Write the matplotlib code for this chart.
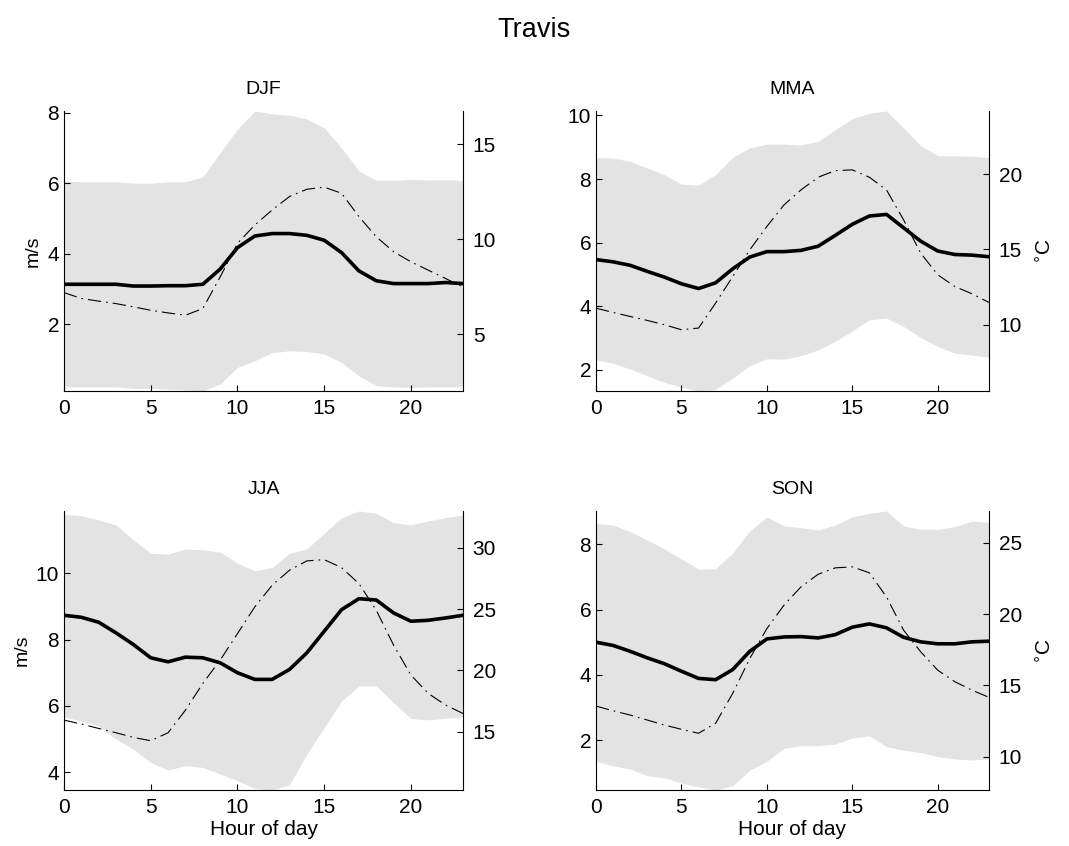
import numpy as np
import matplotlib.pyplot as plt

plt.rcParams['font.family'] = ['Liberation Sans', 'DejaVu Sans']

hours = np.arange(24)

seasons = ["DJF", "MMA", "JJA", "SON"]

# wind speed, m/s: mean and band edges; temperature in degC
djf_mean = [3.13, 3.13, 3.13, 3.13, 3.08, 3.08, 3.09, 3.09, 3.13, 3.56, 4.17, 4.50,
            4.57, 4.57, 4.52, 4.38, 4.03, 3.51, 3.23, 3.15, 3.15, 3.15, 3.18, 3.15]
djf_upper = [6.06, 6.04, 6.04, 6.04, 6.00, 6.00, 6.04, 6.04, 6.18, 6.87, 7.53, 8.05,
             7.97, 7.93, 7.82, 7.57, 7.00, 6.35, 6.08, 6.08, 6.11, 6.09, 6.10, 6.08]
djf_lower = [0.22, 0.22, 0.22, 0.22, 0.17, 0.17, 0.15, 0.13, 0.10, 0.30, 0.77, 0.96,
             1.19, 1.24, 1.22, 1.15, 0.91, 0.53, 0.25, 0.22, 0.20, 0.22, 0.22, 0.22]
djf_temp = [7.18, 6.87, 6.73, 6.60, 6.43, 6.25, 6.11, 5.99, 6.34, 8.00, 9.77, 10.74,
            11.53, 12.24, 12.62, 12.73, 12.41, 11.18, 10.12, 9.33, 8.80, 8.36, 7.92, 7.48]

mma_mean = [5.47, 5.40, 5.29, 5.10, 4.92, 4.71, 4.56, 4.74, 5.18, 5.55, 5.72, 5.72,
            5.76, 5.89, 6.23, 6.58, 6.84, 6.89, 6.47, 6.05, 5.74, 5.63, 5.61, 5.56]
mma_upper = [8.68, 8.66, 8.56, 8.35, 8.14, 7.84, 7.81, 8.14, 8.68, 8.98, 9.10, 9.10,
             9.07, 9.19, 9.55, 9.90, 10.07, 10.14, 9.61, 9.05, 8.74, 8.73, 8.72, 8.68]
mma_lower = [2.32, 2.21, 2.03, 1.82, 1.61, 1.47, 1.34, 1.39, 1.74, 2.14, 2.35, 2.34,
             2.45, 2.63, 2.90, 3.23, 3.58, 3.63, 3.37, 3.02, 2.74, 2.53, 2.47, 2.40]
mma_temp = [11.10, 10.82, 10.55, 10.29, 10.00, 9.67, 9.78, 11.44, 13.20, 14.98, 16.53, 17.96,
            18.96, 19.80, 20.24, 20.29, 19.80, 18.96, 16.97, 14.76, 13.32, 12.54, 12.06, 11.48]

jja_mean = [8.73, 8.67, 8.52, 8.20, 7.85, 7.45, 7.33, 7.47, 7.45, 7.30, 7.00, 6.80,
            6.80, 7.10, 7.60, 8.25, 8.90, 9.23, 9.19, 8.80, 8.55, 8.58, 8.65, 8.73]
jja_upper = [11.77, 11.73, 11.60, 11.45, 11.00, 10.60, 10.57, 10.73, 10.70, 10.63, 10.30, 10.07,
             10.17, 10.60, 10.73, 11.20, 11.67, 11.87, 11.80, 11.52, 11.45, 11.57, 11.67, 11.75]
jja_lower = [5.67, 5.55, 5.40, 5.00, 4.70, 4.30, 4.07, 4.20, 4.15, 3.95, 3.75, 3.52,
             3.47, 3.63, 4.55, 5.35, 6.15, 6.60, 6.60, 6.10, 5.62, 5.58, 5.63, 5.68]
jja_temp = [15.96, 15.64, 15.28, 14.93, 14.55, 14.28, 14.93, 16.77, 18.94, 20.84, 23.00, 25.18,
            26.94, 28.16, 28.92, 29.02, 28.37, 27.07, 24.90, 22.06, 19.62, 18.13, 17.18, 16.50]

son_mean = [5.00, 4.90, 4.72, 4.52, 4.34, 4.11, 3.89, 3.85, 4.16, 4.72, 5.10, 5.16,
            5.17, 5.13, 5.23, 5.46, 5.56, 5.44, 5.15, 5.01, 4.95, 4.95, 5.01, 5.03]
son_upper = [8.64, 8.59, 8.39, 8.13, 7.86, 7.55, 7.24, 7.25, 7.73, 8.41, 8.84, 8.56,
             8.51, 8.44, 8.59, 8.84, 8.95, 9.02, 8.56, 8.46, 8.46, 8.54, 8.71, 8.67]
son_lower = [1.35, 1.21, 1.11, 0.91, 0.84, 0.68, 0.57, 0.47, 0.60, 1.08, 1.35, 1.75,
             1.83, 1.83, 1.88, 2.06, 2.13, 1.80, 1.69, 1.62, 1.49, 1.42, 1.39, 1.42]
son_temp = [13.55, 13.22, 12.92, 12.57, 12.22, 11.92, 11.64, 12.34, 14.44, 16.89, 18.99, 20.63,
            21.92, 22.80, 23.25, 23.32, 22.90, 21.21, 18.88, 17.36, 16.07, 15.26, 14.67, 14.16]

wind_ticks = [[2, 4, 6, 8], [2, 4, 6, 8, 10], [4, 6, 8, 10], [2, 4, 6, 8]]
temp_ticks = [[5, 10, 15], [10, 15, 20], [15, 20, 25, 30], [10, 15, 20, 25]]
temp_lims = [(2.0, 16.74), (5.6, 24.2), (10.27, 32.98), (7.66, 27.24)]

data = {
    "DJF": (djf_mean, djf_upper, djf_lower, djf_temp),
    "MMA": (mma_mean, mma_upper, mma_lower, mma_temp),
    "JJA": (jja_mean, jja_upper, jja_lower, jja_temp),
    "SON": (son_mean, son_upper, son_lower, son_temp),
}

W, H = 1069, 846
# axes boxes in pixels: left, right, top, bottom
boxes = [(64, 463, 111, 391), (596, 989, 111, 391),
         (64, 463, 511, 790), (596, 989, 511, 790)]

fig = plt.figure(figsize=(W / 100, H / 100), dpi=100)
fs = 15

for i, name in enumerate(seasons):
    mean, upper, lower, temp = data[name]
    l, r, t, b = boxes[i]
    ax = fig.add_axes([l / W, 1 - b / H, (r - l) / W, (b - t) / H])
    ax.fill_between(hours, lower, upper, color="#e3e3e3", linewidth=0)
    ax.plot(hours, mean, color="black", linewidth=2.6)
    ax.set_xlim(0, 23)
    ax.set_ylim(min(lower), max(upper))
    ax.set_xticks([0, 5, 10, 15, 20])
    ax.set_yticks(wind_ticks[i])
    ax.spines["top"].set_visible(False)
    ax.spines["right"].set_visible(False)
    ax.tick_params(direction="in", length=4, width=0.8, labelsize=fs)
    ax.tick_params(axis="x", pad=6)
    ax.set_title(name, fontsize=fs - 1, pad=12)
    if i % 2 == 0:
        ax.set_ylabel("m/s", fontsize=fs - 1)
    if i >= 2:
        ax.set_xlabel("Hour of day", fontsize=fs, labelpad=2)

    ax2 = ax.twinx()
    ax2.plot(hours, temp, color="black", linewidth=0.8,
             linestyle=(0, (12, 4.5, 1.5, 4.5)))
    ax2.set_ylim(*temp_lims[i])
    ax2.set_yticks(temp_ticks[i])
    ax2.spines["top"].set_visible(False)
    ax2.spines["left"].set_visible(False)
    ax2.spines["bottom"].set_visible(False)
    ax2.tick_params(direction="in", length=4, width=0.8, labelsize=fs, pad=7)
    if i % 2 == 1:
        ax2.set_ylabel("$^{\\circ}$C", fontsize=fs, labelpad=10)

fig.text(0.5, 1 - 30 / H, "Travis", ha="center", va="center", fontsize=19.5)

fig.savefig("out.png", dpi=100)
